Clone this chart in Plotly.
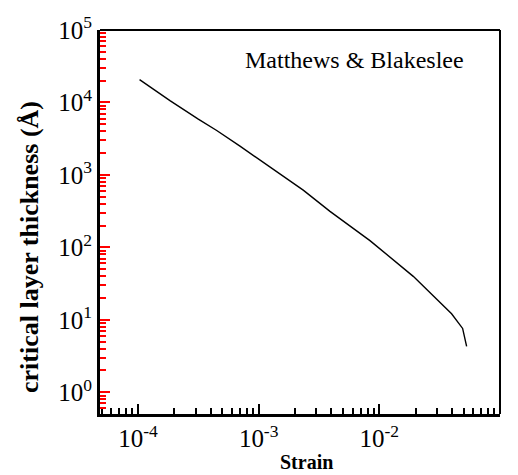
import plotly.graph_objects as go

# Data (Matthews & Blakeslee critical thickness)
strain = [1.03e-4, 1.84e-4, 3.16e-4, 4.49e-4, 7.0e-4, 1.5e-3, 2.34e-3,
          3.90e-3, 8.36e-3, 1.91e-2, 3.97e-2, 4.90e-2, 5.29e-2]
thickness = [2.07e4, 1.06e4, 5.89e3, 4.10e3, 2.49e3, 1.035e3, 617,
             314, 124, 39.8, 12.1, 7.6, 4.3]

x_tickvals = [1e-4, 1e-3, 1e-2, 1e-1]
x_ticktext = ["10<sup>-4</sup>", "10<sup>-3</sup>", "10<sup>-2</sup>", "10<sup>-1</sup>"]
y_tickvals = [1e0, 1e1, 1e2, 1e3, 1e4, 1e5]
y_ticktext = ["10<sup>0</sup>", "10<sup>1</sup>", "10<sup>2</sup>",
              "10<sup>3</sup>", "10<sup>4</sup>", "10<sup>5</sup>"]

label_text = "Matthews & Blakeslee"
x_title = "<b>Strain</b>"
y_title = "<b>critical layer thickness (Å)</b>"

FONT = "Liberation Serif"

# minor tick positions (2..9 within each decade)
x_minor = [k * 10.0 ** n for n in range(-5, -1) for k in range(2, 10)]
y_minor = [k * 10.0 ** n for n in range(-1, 5) for k in range(2, 10)]

fig = go.Figure()
fig.add_trace(go.Scatter(x=strain, y=thickness, mode="lines",
                         line=dict(color="black", width=1.4),
                         showlegend=False, hoverinfo="skip"))

fig.update_xaxes(type="log", range=[-4.315, -1],
                 showline=True, linewidth=3, linecolor="black",
                 ticks="inside", ticklen=10, tickwidth=2, tickcolor="black",
                 tickmode="array", tickvals=x_tickvals, ticktext=x_ticktext,
                 tickfont=dict(family=FONT, size=25, color="black"),
                 minor=dict(ticks="inside", ticklen=6, tickwidth=1.5, tickcolor="black",
                            tickmode="array", tickvals=x_minor))
fig.update_yaxes(type="log", range=[-0.3, 5],
                 showline=True, linewidth=3, linecolor="black",
                 ticks="inside", ticklen=10, tickwidth=2, tickcolor="red",
                 tickmode="array", tickvals=y_tickvals, ticktext=y_ticktext,
                 tickfont=dict(family=FONT, size=25, color="black"),
                 minor=dict(ticks="inside", ticklen=6, tickwidth=1.5, tickcolor="red",
                            tickmode="array", tickvals=y_minor))

# top and right frame lines (thinner)
fig.add_shape(type="line", xref="paper", yref="paper", x0=0, x1=1, y0=1, y1=1,
              line=dict(color="black", width=2))
fig.add_shape(type="line", xref="paper", yref="paper", x0=1, x1=1, y0=0, y1=1,
              line=dict(color="black", width=2))

fig.add_annotation(text=label_text, xref="paper", yref="paper",
                   x=0.635, y=0.921, xanchor="center", yanchor="middle",
                   showarrow=False, font=dict(family=FONT, size=24, color="black"))

# axis titles as annotations for precise placement
fig.add_annotation(text=x_title, xref="paper", yref="paper",
                   x=0.515, y=-0.124, xanchor="center", yanchor="middle",
                   showarrow=False, font=dict(family=FONT, size=20, color="black"))
fig.add_annotation(text=y_title, xref="paper", yref="paper",
                   x=-0.175, y=0.435, xanchor="center", yanchor="middle",
                   textangle=-90, showarrow=False,
                   font=dict(family=FONT, size=26, color="black"))

fig.update_layout(
    width=518, height=475,
    margin=dict(l=100, r=18, t=21, b=61, pad=0),
    plot_bgcolor="white", paper_bgcolor="white",
)

fig.write_html("out.html")
